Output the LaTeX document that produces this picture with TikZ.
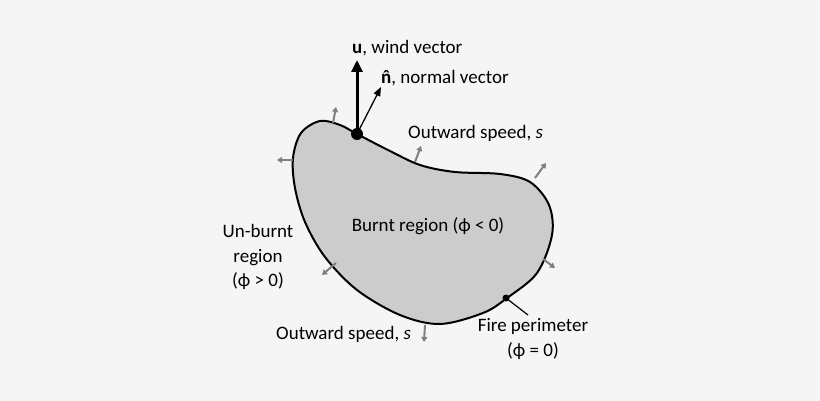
\documentclass[tikz,border=0pt]{standalone}
\usepackage{fontspec}
\setmainfont{Carlito}
\usetikzlibrary{arrows.meta}
\definecolor{bg}{RGB}{245,245,245}
\definecolor{fillg}{RGB}{204,204,204}
\definecolor{arrg}{RGB}{128,128,128}
\newcommand{\nhatsym}{\textbf{\ooalign{n\cr\hidewidth ˆ\hidewidth\cr}}}
\begin{document}
\begin{tikzpicture}[x=1pt,y=-1pt,
  lbl/.style={font=\fontsize{19}{24.5}\selectfont, inner sep=0pt, align=center},
  outarr/.style={draw=arrg, line width=2pt, -{Triangle[length=5pt,width=6pt]}},
  dotnode/.style={circle, fill=black, inner sep=0pt, minimum size=#1}]
\fill[bg] (0,0) rectangle (820,401);
\useasboundingbox (0,0) rectangle (820,401);
% burnt region
\draw[fill=fillg, line width=2pt] plot[smooth cycle, tension=0.55] coordinates {(320,121) (340,125) (357,134) (388,150) (420,165) (455,172) (500,174) (530,182) (549,205) (552,235) (537,273) (507,298) (483,313) (440,324) (400,315) (357,290) (325,257) (305,222) (295,188) (293,158) (301,133)};
% outward arrows
\coordinate (a1s) at (333,123); \coordinate (a1e) at (336,107);
\coordinate (a2s) at (293,160); \coordinate (a2e) at (277,160);
\coordinate (a3s) at (415,162); \coordinate (a3e) at (421,146);
\coordinate (a4s) at (535,178); \coordinate (a4e) at (546,163);
\coordinate (a5s) at (543,259); \coordinate (a5e) at (555,268);
\coordinate (a6s) at (336,263); \coordinate (a6e) at (322,275);
\coordinate (a7s) at (425,325); \coordinate (a7e) at (424,342);
\foreach \i in {1,...,7} \draw[outarr] (a\i s) -- (a\i e);
% point and vectors
\node[dotnode=12pt] (dot) at (357,134) {};
\coordinate (wtip) at (357,60);
\coordinate (ntip) at (381,87);
\draw[line width=3pt, -{Triangle[length=12pt,width=11pt]}] (dot.center) -- (wtip);
\draw[line width=1.3pt, -{Triangle[length=9pt,width=7pt]}] (dot.center) -- (ntip);
% fire perimeter point
\node[dotnode=7pt] (fp) at (506,298) {};
\coordinate (fpe) at (528,315);
\draw[line width=1.2pt] (fp.center) -- (fpe);
% labels
\node[lbl, anchor=west] (lu) at (352,48) {\textbf{u}, wind vector};
\node[lbl, anchor=west] (ln) at (381,78) {\nhatsym, normal vector};
\node[lbl, anchor=west] (lo1) at (408,133) {Outward speed, \textit{s}};
\node[lbl] (lb) at (428,226) {Burnt region (ϕ < 0)};
\node[lbl] (lun) at (258,257) {Un-burnt\\region\\(ϕ > 0)};
\node[lbl, anchor=west] (lo2) at (276,334) {Outward speed, \textit{s}};
\node[lbl] (lfp) at (533,339) {Fire perimeter\\(ϕ = 0)};
\end{tikzpicture}
\end{document}
